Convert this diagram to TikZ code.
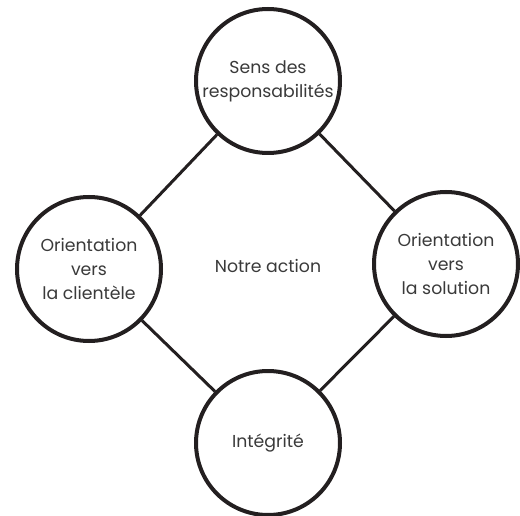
\documentclass[tikz,border=0pt]{standalone}
\usepackage{fontspec}
\setmainfont{Poppins}
\definecolor{ink}{HTML}{231F20}
\definecolor{txt}{HTML}{3A3A3A}
\begin{document}
\begin{tikzpicture}[x=1pt,y=-1pt,
  valcircle/.style={circle,draw=ink,line width=4pt,minimum size=144pt,inner sep=0pt,fill=white,
    align=center,text=txt,font=\fontsize{17.3}{24}\selectfont},
  link/.style={draw=ink,line width=3pt}]
\useasboundingbox (0,0) rectangle (520,516);
\node[valcircle] (top) at (268,81) {Sens des\\responsabilités};
\node[valcircle] (left) at (89,269) {Orientation\\vers\\la clientèle};
\node[valcircle] (right) at (446,264) {Orientation\\vers\\la solution};
\node[valcircle] (bottom) at (268,443) {Intégrité};
\node[text=txt,font=\fontsize{17.3}{24}\selectfont] (center) at (268,266) {Notre action};
\draw[link] (top) -- (left);
\draw[link] (top) -- (right);
\draw[link] (left) -- (bottom);
\draw[link] (right) -- (bottom);
\end{tikzpicture}
\end{document}
